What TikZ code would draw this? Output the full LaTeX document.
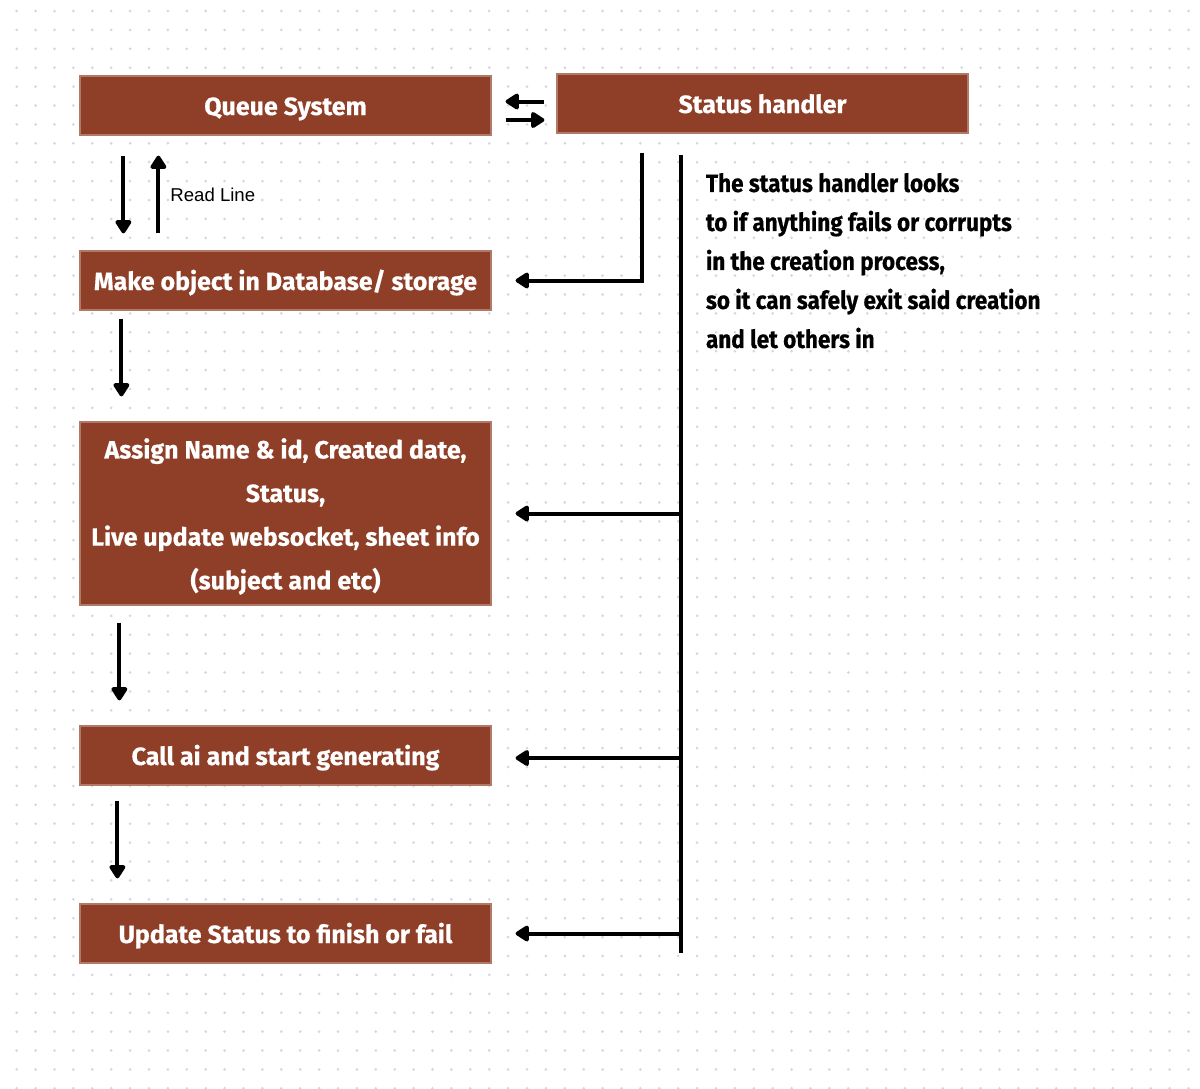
\documentclass[tikz,border=0pt]{standalone}
\usepackage{fontspec}
\usetikzlibrary{arrows.meta,positioning}
\newfontfamily\boxfont[FakeBold=0.5]{Fira Sans}
\newfontfamily\sidefont[FakeStretch=0.9,FakeBold=0.5]{Fira Sans}
\newfontfamily\notefont{Liberation Sans}
\definecolor{rust}{HTML}{8F3F28}
\definecolor{dotgray}{HTML}{D6D6E2}

\begin{document}
\begin{tikzpicture}[x=0.5pt,y=-0.5pt,>={Triangle[length=7.5pt,width=9pt,round]},
	line width=2pt,
	box base/.style={rectangle,fill=rust,draw=rust!70!white,line width=0.6pt,
		minimum width=205.5pt,minimum height=29.5pt,inner sep=0pt,text=white,
		font=\boxfont\bfseries\fontsize{12.5}{21.8}\selectfont,align=center},
	stage box/.style={box base,text height=9.5pt,text depth=0pt},
	side note/.style={inner sep=0pt,align=left,
		font=\sidefont\bfseries\fontsize{12.5}{19.5}\selectfont},
	read label/.style={inner sep=5pt,font=\notefont\fontsize{9.3}{11}\selectfont}]

	\useasboundingbox (0,0) rectangle (1200,1088);
	% dotted background
	\foreach \i in {0,...,63}
		\foreach \j in {0,...,57}
			\fill[dotgray] (16.7+18.9*\i,11+18.9*\j) circle (1.5);

	\node[stage box] (queue) at (285.5,105.5) {Queue System};
	\node[stage box] (status) at (762.5,103.5) {Status handler};
	\node[stage box] (make) at (285.5,280.5) {Make object in Database/ storage};
	\node[box base,minimum height=91.5pt] (assign) at (285.5,513.5)
		{Assign Name \& id, Created date,\\Status,\\Live update websocket, sheet info\\(subject and etc)\vspace{-3pt}};
	\node[stage box] (call) at (285.5,755.5) {Call ai and start generating};
	\node[stage box] (update) at (285.5,933.5) {Update Status to finish or fail};

	\node[side note,anchor=north west] (note) at (704,171)
		{The status handler looks\\to if anything fails or corrupts\\in the creation process,\\so it can safely exit said creation\\and let others in};

	% queue <-> status
	\draw[->] ([xshift=-6pt,yshift=1pt]status.west) -- ([xshift=7pt,yshift=2pt]queue.east);
	\draw[->] ([xshift=7pt,yshift=-7.25pt]queue.east) -- ([xshift=-6pt,yshift=-8.25pt]status.west);

	% main flow
	\draw[->] ([xshift=22pt,yshift=-10pt]queue.south west) -- ([xshift=22pt,yshift=8.5pt]make.north west);
	\draw[->] ([xshift=39.5pt,yshift=8.5pt]make.north west)
		-- node[right,read label] {Read Line} ([xshift=39.5pt,yshift=-10pt]queue.south west);
	\draw[->] ([xshift=21pt,yshift=-4pt]make.south west) -- ([xshift=21pt,yshift=12.5pt]assign.north west);
	\draw[->] ([xshift=20pt,yshift=-8.5pt]assign.south west) -- ([xshift=20pt,yshift=12.5pt]call.north west);
	\draw[->] ([xshift=19pt,yshift=-7.5pt]call.south west) -- ([xshift=19pt,yshift=12.5pt]update.north west);

	% status handler watch lines
	\draw[->] ([xshift=-60.25pt,yshift=-9.5pt]status.south) |- ([xshift=12pt]make.east);
	\coordinate (bus top) at (681,155);
	\coordinate (bus end) at (681,953);
	\draw (bus top) -- (bus end);
	\draw[->] (bus top |- assign.east) -- ([xshift=12pt]assign.east);
	\draw[->] ([yshift=-1.25pt]bus top |- call.east) -- ([xshift=12pt,yshift=-1.25pt]call.east);
	\draw[->] (bus top |- update.east) -- ([xshift=12pt]update.east);
\end{tikzpicture}
\end{document}
